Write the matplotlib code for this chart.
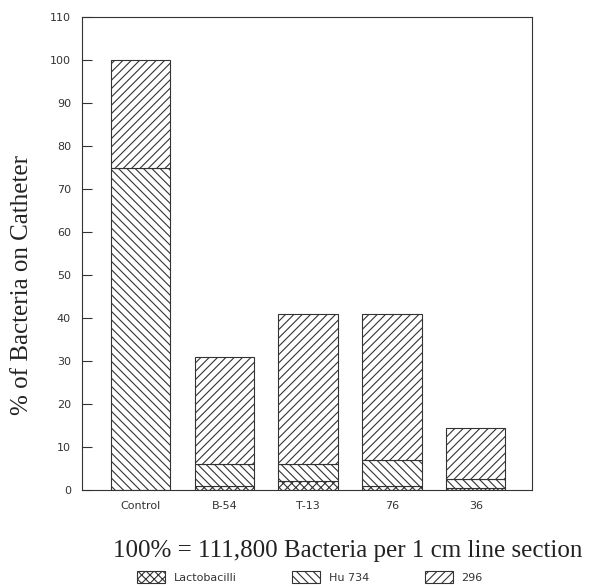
import matplotlib.pyplot as plt
import numpy as np

categories = ['Control', 'B-54', 'T-13', '76', '36']
lacto = [0, 1, 2, 1, 0.5]
hu734 = [75, 5, 4, 6, 2]
s296 = [25, 25, 35, 34, 12]
yticks = list(range(0, 111, 10))

plt.rcParams['hatch.linewidth'] = 0.8
plt.rcParams['hatch.color'] = '#333333'

fig = plt.figure(figsize=(6.03, 5.88), dpi=100)
ax = fig.add_axes([0.136, 0.1667, 0.746, 0.804])

x = np.arange(len(categories))
w = 0.71
b1 = ax.bar(x, lacto, w, color='white', edgecolor='#333333', linewidth=0.8, hatch='xxxx', label='Lactobacilli')
b2 = ax.bar(x, hu734, w, bottom=lacto, color='white', edgecolor='#333333', linewidth=0.8, hatch='\\\\\\\\', label='Hu 734')
bot = np.array(lacto) + np.array(hu734)
b3 = ax.bar(x, s296, w, bottom=bot, color='white', edgecolor='#333333', linewidth=0.8, hatch='////', label='296')

ax.set_xlim(-0.70, 4.67)
ax.set_ylim(0, 110)
ax.set_yticks(yticks)
ax.set_xticks(x)
ax.set_xticklabels(categories)
ax.tick_params(axis='y', direction='in', length=7, width=0.8, labelsize=8, pad=8, colors='#333333')
ax.tick_params(axis='x', length=0, labelsize=8, pad=8, colors='#333333')
for s in ax.spines.values():
    s.set_linewidth(0.8)
    s.set_color('#333333')

fig.text(0.036, 1 - 285 / 588, '% of Bacteria on Catheter', family='Liberation Serif', fontsize=18,
         rotation=90, ha='center', va='center', color='#222222')
fig.text(348 / 603, 1 - 551 / 588, '100% = 111,800 Bacteria per 1 cm line section', family='Liberation Serif',
         fontsize=18, ha='center', va='center', color='#222222')

fig.legend(handles=[b1, b2, b3], loc='center', bbox_to_anchor=(310 / 603, 1 - 577 / 588), ncol=3,
           frameon=False, fontsize=8, handlelength=2.5, handleheight=1.3, columnspacing=5,
           labelcolor='#333333')

fig.savefig('out.png', dpi=100)
